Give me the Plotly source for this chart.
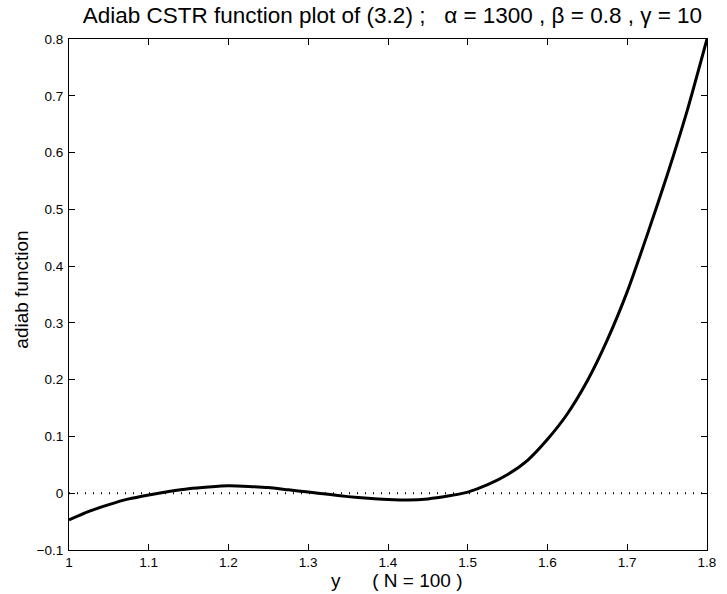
import plotly.graph_objects as go

x_vals = [1.000, 1.025, 1.050, 1.075, 1.100, 1.125, 1.150, 1.175, 1.200, 1.225, 1.250,
          1.275, 1.300, 1.325, 1.350, 1.375, 1.400, 1.425, 1.450, 1.475, 1.500, 1.525,
          1.550, 1.575, 1.600, 1.625, 1.650, 1.675, 1.700, 1.725, 1.750, 1.775, 1.800]
f_vals = [-0.047, -0.032, -0.020, -0.010, -0.003, 0.003, 0.008, 0.011, 0.013, 0.012, 0.010,
          0.006, 0.002, -0.002, -0.006, -0.009, -0.011, -0.012, -0.010, -0.005, 0.002, 0.015,
          0.033, 0.058, 0.095, 0.140, 0.198, 0.270, 0.355, 0.455, 0.560, 0.673, 0.800]
zero_x = [1.0, 1.8]
zero_y = [0.0, 0.0]
x_ticks = [1.0, 1.1, 1.2, 1.3, 1.4, 1.5, 1.6, 1.7, 1.8]
x_tick_text = ["1", "1.1", "1.2", "1.3", "1.4", "1.5", "1.6", "1.7", "1.8"]
y_ticks = [-0.1, 0.0, 0.1, 0.2, 0.3, 0.4, 0.5, 0.6, 0.7, 0.8]
y_tick_text = ["\u22120.1", "0", "0.1", "0.2", "0.3", "0.4", "0.5", "0.6", "0.7", "0.8"]

FONT = "Liberation Sans, Arial, Helvetica, sans-serif"
NB = "\u00a0"

fig = go.Figure()
fig.add_trace(go.Scatter(x=zero_x, y=zero_y, mode="lines",
                         line=dict(color="black", width=2, dash="1px,7px"),
                         hoverinfo="skip", showlegend=False))
fig.add_trace(go.Scatter(x=x_vals, y=f_vals, mode="lines",
                         line=dict(color="black", width=3, shape="spline", smoothing=0.6),
                         showlegend=False))

title_text = ("Adiab CSTR function plot of (3.2) ;" + NB * 3 + "\u03b1 = 1300 , \u03b2 = 0.8 , \u03b3 = 10")
fig.update_layout(
    width=727, height=594,
    margin=dict(l=69, r=11, t=39, b=44),
    paper_bgcolor="white", plot_bgcolor="white",
    font=dict(family=FONT, color="black"),
    title=dict(text=title_text, font=dict(size=22.5, family=FONT, color="black"),
               x=(397 - 69) / 647, xref="paper", xanchor="center",
               y=1 - 15.5 / 594, yref="container", yanchor="middle"),
    xaxis=dict(range=[1.0, 1.8], tickvals=x_ticks, ticktext=x_tick_text,
               showgrid=False, zeroline=False, showline=True, linecolor="black", linewidth=1,
               mirror="ticks", ticks="inside", ticklen=6, tickcolor="black", tickwidth=1,
               tickfont=dict(size=13.5, family=FONT), ticklabelstandoff=0),
    yaxis=dict(range=[-0.1, 0.8], tickvals=y_ticks, ticktext=y_tick_text,
               showgrid=False, zeroline=False, showline=True, linecolor="black", linewidth=1,
               mirror="ticks", ticks="inside", ticklen=6, tickcolor="black", tickwidth=1,
               tickfont=dict(size=13.5, family=FONT), ticklabelstandoff=2),
    annotations=[
        dict(text="y" + NB * 6 + "( N = 100 )", xref="paper", yref="paper",
             x=(401 - 69) / 647, y=(550 - 580) / 511, xanchor="center", yanchor="middle",
             showarrow=False, font=dict(size=19, family=FONT, color="black")),
        dict(text="adiab function", xref="paper", yref="paper",
             x=(20 - 69) / 647, y=(550 - 290) / 511, xanchor="center", yanchor="middle",
             textangle=-90, showarrow=False, font=dict(size=19, family=FONT, color="black")),
    ],
)

fig.write_html("out.html")
